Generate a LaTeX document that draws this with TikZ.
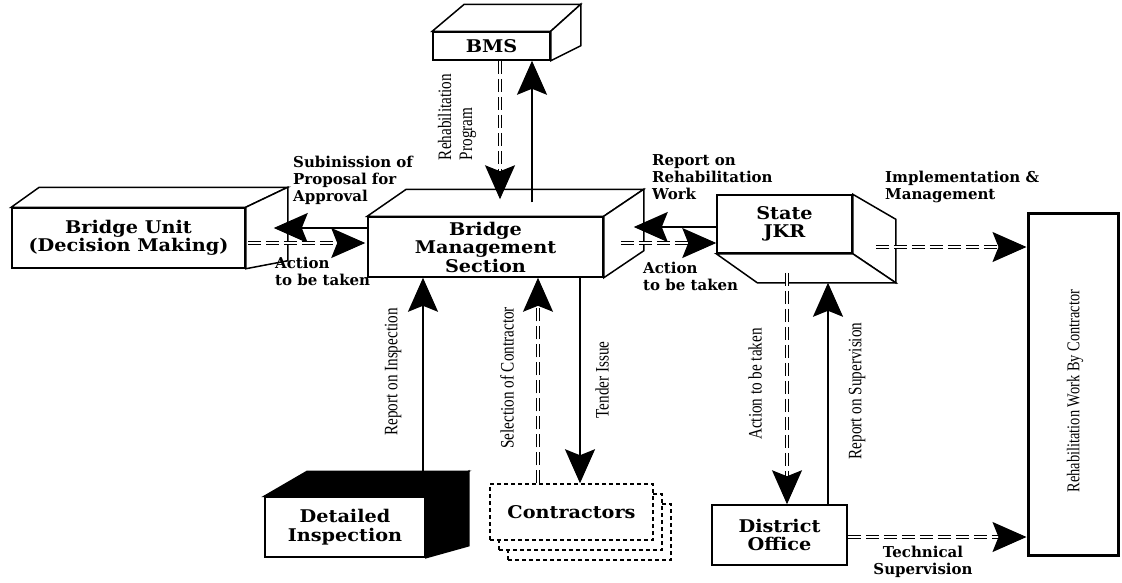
\documentclass[tikz,border=0pt]{standalone}
\usepackage{fontspec}
\setmainfont{Liberation Serif}
\newfontfamily\boxfont[FakeStretch=1.1]{DejaVu Serif}
\newfontfamily\tagfont{DejaVu Serif}
\newfontfamily\narrowfont[FakeStretch=0.8]{Liberation Serif}
\usetikzlibrary{arrows.meta,calc}
\tikzset{
	bms chart/.style={
		x=1pt,y=-1pt,
		line join=miter
	},
	front face/.style={
		draw,
		line width=1.5pt,
		fill=white,
		inner sep=0pt,
		align=center,
		font=\boxfont\bfseries\fontsize{17.5}{18.5}\selectfont
	},
	side face/.style={
		draw,
		line width=1.5pt,
		fill=white
	},
	dark face/.style={
		side face,
		fill=black
	},
	copy box/.style={
		front face,
		dash pattern=on 4pt off 3pt,
		minimum width=163pt,
		minimum height=56pt
	},
	flow/.style={
		line width=1.8pt,
		-{Stealth[length=34pt,width=30pt,inset=6pt]}
	},
	dashed flow/.style={
		line width=1.1pt,
		double,
		double distance=2.5pt,
		dash pattern=on 13pt off 5pt,
		-{Stealth[length=34pt,width=30pt,inset=6pt]}
	},
	tag/.style={
		inner sep=0pt,
		align=left,
		font=\tagfont\bfseries\fontsize{15}{17}\selectfont
	},
	side tag/.style={
		inner sep=0pt,
		rotate=90,
		align=left,
		font=\narrowfont\fontsize{19}{21}\selectfont
	}
}

\begin{document}
\begin{tikzpicture}[bms chart]
	\useasboundingbox (0,0) rectangle (1122,582);
	% boxes
	\node[front face,minimum width=233pt,minimum height=60pt] (bu) at (128.5,238) {Bridge Unit\\(Decision Making)};
	\draw[side face] (bu.north west) -- ++(28,-20) -- ($(bu.north east)+(42,-20)$) -- (bu.north east) -- cycle;
	\draw[side face] (bu.north east) -- ++(42,-20) -- ($(bu.south east)+(42,-8)$) -- (bu.south east) -- cycle;
	\node[front face,minimum width=117pt,minimum height=28pt] (bms) at (491.5,46) {BMS};
	\draw[side face] (bms.north west) -- ++(32,-27) -- ($(bms.north east)+(30,-27)$) -- (bms.north east) -- cycle;
	\draw[side face] (bms.north east) -- ++(30,-27) -- ($(bms.south east)+(30,-15)$) -- (bms.south east) -- cycle;
	\node[front face,minimum width=235pt,minimum height=60pt] (sec) at (485.5,247) {Bridge\\Management\\Section};
	\draw[side face] (sec.north west) -- ++(39,-27) -- ($(sec.north east)+(40,-27)$) -- (sec.north east) -- cycle;
	\draw[side face] (sec.north east) -- ++(40,-27) -- ($(sec.south east)+(40,-27)$) -- (sec.south east) -- cycle;
	\node[front face,minimum width=135pt,minimum height=58pt] (jkr) at (784.5,224) {State\\JKR};
	\draw[side face] (jkr.north east) -- ++(43,25) -- ($(jkr.south east)+(43,29)$) -- (jkr.south east) -- cycle;
	\draw[side face] (jkr.south west) -- ++(41,29) -- ($(jkr.south east)+(43,29)$) -- (jkr.south east) -- cycle;
	\node[front face,minimum width=160pt,minimum height=60pt] (insp) at (345,527) {Detailed\\Inspection};
	\draw[dark face] (insp.north west) -- ++(43,-25) -- ($(insp.north east)+(43,-25)$) -- (insp.north east) -- cycle;
	\draw[dark face] (insp.north east) -- ++(43,-25) -- ($(insp.south east)+(43,-12)$) -- (insp.south east) -- cycle;
	\foreach \k in {2,1}
		\node[copy box] at (571.5+9*\k,512+10*\k) {};
	\node[copy box] (con) at (571.5,512) {Contractors};
	\node[front face,minimum width=135pt,minimum height=60pt] (dist) at (779.5,535) {District\\Office};
	\node[draw,line width=3pt,minimum width=90pt,minimum height=342pt] (rehab) at (1073,384) {};
	\node[side tag,font=\narrowfont\fontsize{18}{20}\selectfont] at (1075,391) {Rehabilitation Work By Contractor};
	% connectors
	\draw[flow] ([yshift=19pt]sec.west) -- ([xshift=28pt,yshift=10pt]bu.east);
	\draw[dashed flow] ([xshift=2pt,yshift=-5pt]bu.east) -- ([xshift=-2pt,yshift=4pt]sec.west);
	\draw[dashed flow] ([xshift=8.5pt]bms.south) -- ([xshift=14.5pt,yshift=17pt]sec.north);
	\draw[flow] ([xshift=46.5pt,yshift=14pt]sec.north) -- ([xshift=40.5pt]bms.south);
	\draw[flow] ([yshift=-3pt]jkr.west) -- ([xshift=30pt,yshift=20pt]sec.east);
	\draw[dashed flow] ([xshift=17pt,yshift=4pt]sec.east) -- ([yshift=-19pt]jkr.west);
	\draw[dashed flow] ([xshift=23pt,yshift=-23pt]jkr.east) -- ([yshift=137pt]rehab.west);
	\draw[flow] ([xshift=78pt,yshift=25pt]insp.north) -- ([xshift=-62.5pt]sec.south);
	\draw[dashed flow] ([xshift=-33.5pt]con.north) -- ([xshift=52.5pt]sec.south);
	\draw[flow] ([xshift=94.5pt]sec.south) -- ([xshift=8.5pt]con.north);
	\draw[dashed flow] ([xshift=2.5pt,yshift=-19pt]jkr.south) -- ([xshift=7.5pt]dist.north);
	\draw[flow] ([xshift=48.5pt]dist.north) -- ([xshift=43.5pt,yshift=-29pt]jkr.south);
	\draw[dashed flow] ([yshift=-2pt]dist.east) -- ([yshift=-153pt]rehab.west);
	% labels
	\node[tag,anchor=north west] (submit) at (293,156) {Subinission of\\Proposal for\\Approval};
	\node[tag,anchor=north west] (act1) at (275,257) {Action\\to be taken};
	\node[tag,anchor=north west] (report1) at (652,154) {Report on\\Rehabilitation\\Work};
	\node[tag,anchor=north west] (act2) at (643,262) {Action\\to be taken};
	\node[tag,anchor=north west] (impl) at (885,171) {Implementation \&\\Management};
	\node[tag,align=center,anchor=north] (tech) at (923,546) {Technical\\Supervision};
	\node[side tag] (prog) at (457,117) {Rehabilitation\\Program};
	\node[side tag] (rinsp) at (393,372) {Report on Inspection};
	\node[side tag] (select) at (507,378) {Selection of Contractor};
	\node[side tag] (tender) at (602,380) {Tender Issue};
	\node[side tag] (act3) at (755,384) {Action to be taken};
	\node[side tag] (rsup) at (857,391) {Report on Supervision};
\end{tikzpicture}
\end{document}
